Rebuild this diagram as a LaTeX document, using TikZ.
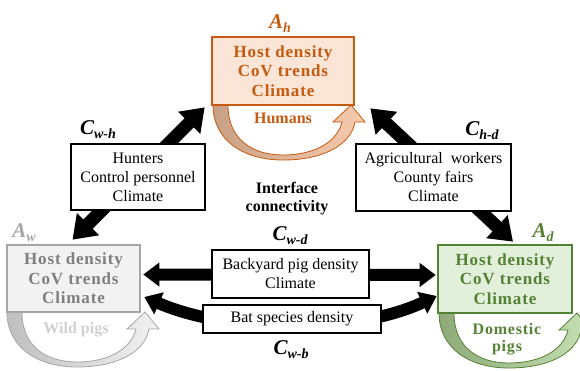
\documentclass[tikz,border=0pt]{standalone}
\usepackage{fontspec}
\setmainfont{Liberation Serif}
\usetikzlibrary{arrows.meta,calc}
\definecolor{hor}{HTML}{C55A11}
\definecolor{horfill}{HTML}{FBE5D6}
\definecolor{horL}{HTML}{C8A085}
\definecolor{horR}{HTML}{F8CBAD}
\definecolor{gry}{HTML}{A6A6A6}
\definecolor{gryfill}{HTML}{F2F2F2}
\definecolor{grytext}{HTML}{7F7F7F}
\definecolor{grylight}{HTML}{D0D0D0}
\definecolor{gryL}{HTML}{BFBFBF}
\definecolor{grn}{HTML}{548235}
\definecolor{grnfill}{HTML}{E2EFDA}
\definecolor{grnL}{HTML}{8FAA78}
\definecolor{grnR}{HTML}{C5E0B4}
\newcommand\cycarrow[5]{%
  \path[draw=#5, line width=0.8pt, left color=#3, right color=#4, shift={(#1,#2)}]
  (0,0) .. controls (0,35) and (30,55) .. (70,55)
        .. controls (110,55) and (138,40) .. (142,17)
        -- (152,17) -- (138,0) -- (120,17) -- (129,17)
        .. controls (124,38) and (100,50) .. (70,50)
        .. controls (40,50) and (15,35) .. (15,0) -- cycle;}
\newcommand\lab[2]{{\fontsize{21}{21}\selectfont\bfseries\itshape #1\raisebox{-4pt}{\fontsize{14}{14}\selectfont #2}}}
\tikzset{
  abox/.style={line width=2.6pt, align=center, inner sep=0pt,
    font=\fontsize{17}{19.5}\selectfont\bfseries\addfontfeature{LetterSpace=5}},
  cbox/.style={draw=black, fill=white, line width=2.2pt, align=center, inner sep=0pt,
    font=\fontsize{16}{19}\selectfont},
  diagarrow/.style={line width=13pt, {Triangle[width=30pt,length=22pt]}-{Triangle[width=30pt,length=22pt]}},
  horarrow/.style={line width=12pt, {Triangle[width=23pt,length=16pt]}-{Triangle[width=23pt,length=16pt]}},
  lbl/.style={inner sep=0pt}
}
\begin{document}
\begin{tikzpicture}[x=1pt,y=-1pt]
\useasboundingbox (0,0) rectangle (580,370);
% cycle arrows
\cycarrow{213}{105}{horL}{horR}{hor}
\cycarrow{7}{312}{gryL}{gryfill}{gry}
\cycarrow{439}{313}{grnL}{grnR}{grn}
% main boxes
\node[abox, draw=hor, fill=horfill, text=hor, minimum width=142pt, minimum height=68pt] (Ah) at (283,71) {Host density\\CoV trends\\Climate};
\node[abox, draw=gry, fill=gryfill, text=grytext, minimum width=133pt, minimum height=67pt] (Aw) at (73.5,278.5) {Host density\\CoV trends\\Climate};
\node[abox, draw=grn, fill=grnfill, text=grn, minimum width=134pt, minimum height=68pt] (Ad) at (505,279) {Host density\\CoV trends\\Climate};
% labels of hosts
\node[lbl, text=hor] (Ahl) at (280,24) {\lab{A}{h}};
\node[lbl, text=gry] (Awl) at (24,233) {\lab{A}{w}};
\node[lbl, text=grn] (Adl) at (543,233) {\lab{A}{d}};
\node[lbl, text=hor, font=\fontsize{16}{19}\selectfont\bfseries] (hum) at (283,118) {Humans};
\node[lbl, text=grylight, font=\fontsize{16}{19}\selectfont\bfseries] (wild) at (76,330) {Wild pigs};
\node[lbl, text=grn, font=\fontsize{16}{17}\selectfont\bfseries\addfontfeature{LetterSpace=5}, align=center] (dom) at (507,339) {Domestic\\pigs};
% connectors
\coordinate (whA) at ($(Aw.north)+(-1,-4)$);
\coordinate (whB) at ($(Ah.south west)+(-6,1)$);
\coordinate (hdA) at ($(Ah.south east)+(15,2)$);
\coordinate (hdB) at ($(Ad.north)+(8,-2)$);
\draw[diagarrow] (whA) -- (whB);
\draw[diagarrow] (hdA) -- (hdB);
\coordinate (wdA) at ($(Aw.east)+(2,-4)$);
\coordinate (wdB) at ($(Ad.west)+(-1,-4)$);
\draw[horarrow] (wdA) -- (wdB);
\coordinate (wbA) at ($(Aw.east)+(3,18.5)$);
\coordinate (wbB) at ($(Ad.west)+(0,17)$);
\draw[horarrow] (wbA) .. controls (230,334) and (355,334) .. (wbB);
% connector boxes
\node[cbox, minimum width=134pt, minimum height=66pt] (hunt) at (138,177) {Hunters\\Control personnel\\Climate};
\node[cbox, minimum width=155pt, minimum height=67pt] (agri) at (433.5,177.5) {Agricultural\ \ workers\\County fairs\\Climate};
\node[cbox, minimum width=157pt, minimum height=48pt] (back) at (290.5,274) {Backyard pig density\\Climate};
\node[cbox, minimum width=178pt, minimum height=28pt] (bat) at (292,319) {Bat species density};
% connector labels
\node[lbl] (Cwh) at (98,130) {\lab{C}{w-h}};
\node[lbl] (Chd) at (482,131) {\lab{C}{h-d}};
\node[lbl] (Cwd) at (290,236) {\lab{C}{w-d}};
\node[lbl] (Cwb) at (291,350) {\lab{C}{w-b}};
\node[lbl, align=center, font=\fontsize{16}{18}\selectfont\bfseries] (iface) at (287,199) {Interface\\connectivity};
\end{tikzpicture}
\end{document}
